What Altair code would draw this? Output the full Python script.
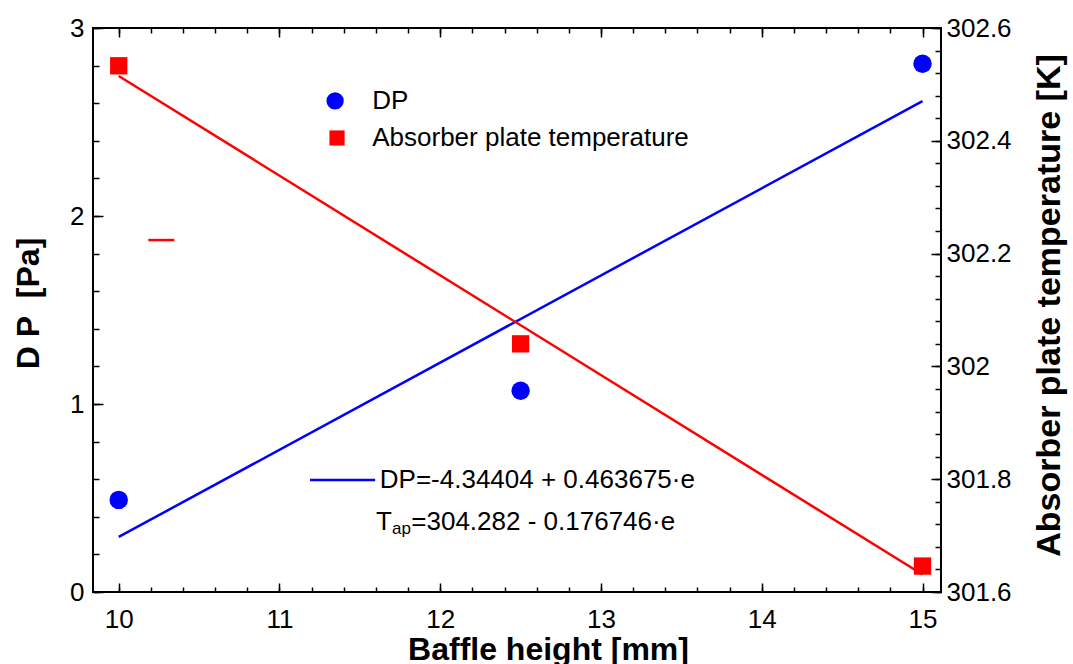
import altair as alt
import pandas as pd

# ---------------- data ----------------
baffle_height = [10.0, 12.5, 15.0]
dp_values = [0.49, 1.07, 2.81]
temp_values = [302.533, 302.04, 301.646]
fit_x = [10.0, 15.0]
dp_fit = [0.293, 2.611]
temp_fit = [302.515, 301.631]

x_major = [10, 11, 12, 13, 14, 15]
x_minor = [round(10.0 + 0.2 * i, 1) for i in range(26)]
dp_major = [0, 1, 2, 3]
dp_minor = [round(0.2 * i, 1) for i in range(16)]
temp_major = [301.6, 301.8, 302.0, 302.2, 302.4, 302.6]
temp_minor = [round(301.6 + 0.04 * i, 2) for i in range(26)]

legend_labels = ["DP", "Absorber plate temperature"]
eq_dp_text = "DP=-4.34404 + 0.463675\u00b7e"
eq_t_parts = ["T", "ap", "=304.282 - 0.176746\u00b7e"]

FONT = "Liberation Sans"
BLUE = "#0000ff"
RED = "#ff0000"

X = alt.Scale(domain=[9.84, 15.115], nice=False, zero=False)
YL = alt.Scale(domain=[0, 3], nice=False, zero=False)
YR = alt.Scale(domain=[301.6, 302.6], nice=False, zero=False)


def tick_axis(values, orient, size):
    return alt.Axis(values=values, orient=orient, labels=False, domain=False,
                    ticks=True, tickSize=size, offset=-size, tickColor="black",
                    tickWidth=1.5, grid=False, title=None)


pts = pd.DataFrame({"x": baffle_height, "dp": dp_values, "t": temp_values})
fit = pd.DataFrame({"x": fit_x, "dp": dp_fit, "t": temp_fit})

# DP points with bottom labels and left labels
dp_pts = alt.Chart(pts).mark_point(filled=True, shape="circle", size=340, color=BLUE, opacity=1).encode(
    x=alt.X("x:Q", scale=X, axis=alt.Axis(values=x_major, orient="bottom", ticks=False, domain=False,
                                         grid=False, labelPadding=14, title="Baffle height [mm]",
                                         titleX=455, titleY=67, titleBaseline="alphabetic",
                                         titleAlign="center")),
    y=alt.Y("dp:Q", scale=YL, axis=alt.Axis(values=dp_major, orient="left", ticks=False, domain=False,
                                           grid=False, labelPadding=9, title="D\u00a0P\u00a0\u00a0[Pa]",
                                           titleX=-65, titleY=275, titleAngle=270,
                                           titleBaseline="middle", titleAlign="center")),
)

dp_line = alt.Chart(fit).mark_line(color=BLUE, strokeWidth=2.5).encode(
    x=alt.X("x:Q", scale=X, axis=tick_axis(x_major, "bottom", 9)),
    y=alt.Y("dp:Q", scale=YL, axis=tick_axis(dp_major, "left", 10)),
)

art = pd.DataFrame({"x1": [10.184], "x2": [10.346], "y": [1.872]})
art_rule = alt.Chart(art).mark_rule(color=RED, strokeWidth=2.5).encode(
    x=alt.X("x1:Q", scale=X, axis=tick_axis(x_minor, "bottom", 5)),
    x2="x2:Q",
    y=alt.Y("y:Q", scale=YL, axis=tick_axis(dp_minor, "left", 6)),
)

leg_c = pd.DataFrame({"x": [11.346], "y": [2.612]})
leg_circle = alt.Chart(leg_c).mark_point(filled=True, shape="circle", size=300, color=BLUE, opacity=1).encode(
    x=alt.X("x:Q", scale=X, axis=tick_axis(x_major, "top", 9)),
    y=alt.Y("y:Q", scale=YL, axis=None),
)
leg_s = pd.DataFrame({"x": [11.358], "y": [2.415]})
leg_square = alt.Chart(leg_s).mark_point(filled=True, shape="square", size=230, color=RED, opacity=1).encode(
    x=alt.X("x:Q", scale=X, axis=tick_axis(x_minor, "top", 5)),
    y=alt.Y("y:Q", scale=YL, axis=None),
)
leg_t = pd.DataFrame({"x": [11.577, 11.577], "y": [2.612, 2.415], "label": legend_labels})
leg_text = alt.Chart(leg_t).mark_text(align="left", baseline="middle", font=FONT, fontSize=26,
                                      color="black").encode(
    x=alt.X("x:Q", scale=X, axis=None),
    y=alt.Y("y:Q", scale=YL, axis=None),
    text="label:N",
)

eq_l = pd.DataFrame({"x1": [11.19], "x2": [11.595], "y": [0.596]})
eq_line = alt.Chart(eq_l).mark_rule(color=BLUE, strokeWidth=2.5).encode(
    x=alt.X("x1:Q", scale=X, axis=None), x2="x2:Q",
    y=alt.Y("y:Q", scale=YL, axis=None),
)
eq_txt = pd.DataFrame({"x": [11.624, 11.600, 11.820], "y": [0.596, 0.372, 0.372],
                       "label": [eq_dp_text, eq_t_parts[0], eq_t_parts[2]]})
eq_text = alt.Chart(eq_txt).mark_text(align="left", baseline="middle", font=FONT, fontSize=26,
                                      color="black").encode(
    x=alt.X("x:Q", scale=X, axis=None),
    y=alt.Y("y:Q", scale=YL, axis=None),
    text="label:N",
)
sub_txt = pd.DataFrame({"x": [11.700], "y": [0.335], "label": [eq_t_parts[1]]})
sub_text = alt.Chart(sub_txt).mark_text(align="left", baseline="middle", font=FONT, fontSize=17,
                                        color="black").encode(
    x=alt.X("x:Q", scale=X, axis=None),
    y=alt.Y("y:Q", scale=YL, axis=None),
    text="label:N",
)

t_line = alt.Chart(fit).mark_line(color=RED, strokeWidth=2.5).encode(
    x=alt.X("x:Q", scale=X, axis=None),
    y=alt.Y("t:Q", scale=YR, axis=alt.Axis(values=temp_major, orient="right", ticks=False, domain=False,
                                          grid=False, labelPadding=5, format="~g",
                                          title="Absorber plate temperature [K]",
                                          titleFontSize=34,
                                          titleX=108, titleY=277, titleAngle=270,
                                          titleBaseline="middle", titleAlign="center")),
)
t_pts = alt.Chart(pts).mark_point(filled=True, shape="square", size=300, color=RED, opacity=1).encode(
    x=alt.X("x:Q", scale=X, axis=None),
    y=alt.Y("t:Q", scale=YR, axis=tick_axis(temp_major, "right", 10)),
)
t_minor = alt.Chart(pts).mark_point(opacity=0).encode(
    x=alt.X("x:Q", scale=X, axis=None),
    y=alt.Y("t:Q", scale=YR, axis=tick_axis(temp_minor, "right", 6)),
)

chart = alt.layer(
    t_minor, dp_line, t_line, art_rule, dp_pts, t_pts,
    leg_circle, leg_square, leg_text, eq_line, eq_text, sub_text,
).resolve_scale(y="independent").resolve_axis(x="independent", y="independent").properties(
    width=848, height=564,
    background="white",
    autosize=alt.AutoSizeParams(type="none"),
    padding={"left": 93, "top": 28, "right": 132, "bottom": 72},
).configure_view(stroke="black", strokeWidth=2).configure_axis(
    labelFont=FONT, labelFontSize=26, labelColor="black",
    titleFont=FONT, titleFontSize=32, titleFontWeight="bold", titleColor="black",
)

chart.save("out.html", embed_options={"renderer": "svg", "actions": False})
